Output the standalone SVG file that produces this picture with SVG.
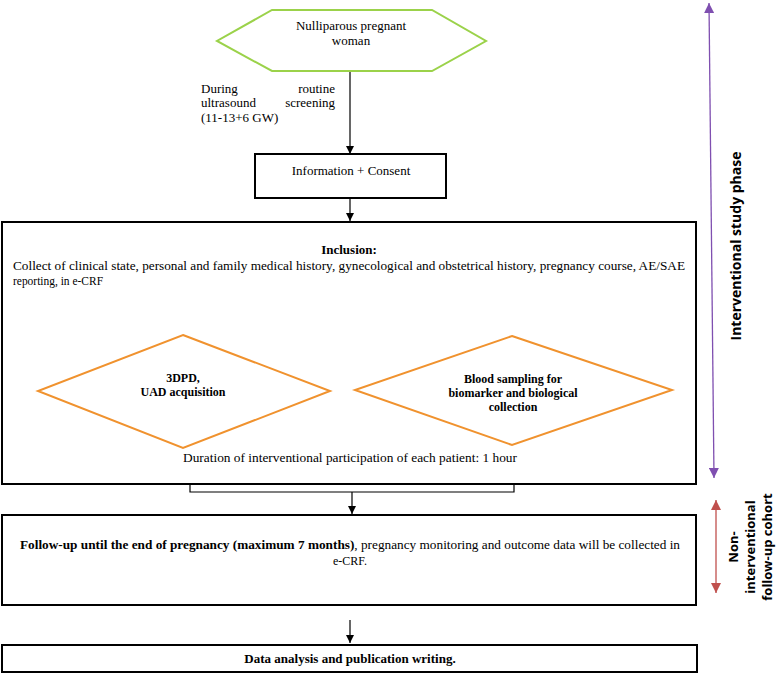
<svg xmlns="http://www.w3.org/2000/svg" width="777" height="674" viewBox="0 0 777 674">
<defs>
<style>
.t{font-family:'Liberation Serif','Tinos','DejaVu Serif',serif;font-size:12px;fill:#000}
.m{font-size:13px}
.b{font-weight:bold}
.box{fill:#fff;stroke:#000;stroke-width:2}
.ln{fill:none;stroke:#000;stroke-width:1.2}
.side{font-family:'Open Sans','DejaVu Sans',sans-serif;font-size:13px;font-weight:bold;fill:#000}
</style>
<marker id="ah" viewBox="0 0 10 10" refX="10" refY="5" markerWidth="8" markerHeight="8" markerUnits="userSpaceOnUse" orient="auto"><path d="M0,0 L10,5 L0,10 z" fill="#000"/></marker>
<marker id="ap" viewBox="0 0 10 10" refX="10" refY="5" markerWidth="10" markerHeight="10" markerUnits="userSpaceOnUse" orient="auto-start-reverse"><path d="M0,0 L10,5 L0,10 z" fill="#7F4FB0"/></marker>
<marker id="ar" viewBox="0 0 10 10" refX="10" refY="5" markerWidth="10" markerHeight="10" markerUnits="userSpaceOnUse" orient="auto-start-reverse"><path d="M0,0 L10,5 L0,10 z" fill="#C0504D"/></marker>
</defs>
<rect width="777" height="674" fill="#fff"/>

<g id="connectors">
<line class="ln" x1="350" y1="71" x2="350" y2="154" marker-end="url(#ah)"/>
<line class="ln" x1="350" y1="198" x2="350" y2="221" marker-end="url(#ah)"/>
<line class="ln" x1="349" y1="288" x2="349" y2="316"/>
<polyline class="ln" points="185,333 185,316 510,316 510,334"/>
<line class="ln" x1="185" y1="316" x2="185" y2="334" marker-end="url(#ah)"/>
<line class="ln" x1="510" y1="316" x2="510" y2="335" marker-end="url(#ah)"/>
<polyline class="ln" points="190,485 190,492 514,492 514,485"/>
<line class="ln" x1="352" y1="492" x2="352" y2="514" marker-end="url(#ah)"/>
<line class="ln" x1="350" y1="620" x2="350" y2="643" marker-end="url(#ah)"/>
<line x1="709" y1="3" x2="714" y2="478" stroke="#7F4FB0" stroke-width="1.3" marker-start="url(#ap)" marker-end="url(#ap)"/>
<line x1="716" y1="500" x2="716" y2="593" stroke="#C0504D" stroke-width="1.3" marker-start="url(#ar)" marker-end="url(#ar)"/>
</g>

<g id="start">
<polygon points="272,10 432,10 486,41 432,71 272,71 217,41" fill="#fff" stroke="#9BD24A" stroke-width="2"/>
<text class="t m" x="351" y="30" text-anchor="middle">Nulliparous pregnant</text>
<text class="t m" x="351" y="45" text-anchor="middle">woman</text>
</g>

<g id="label-during">
<text class="t m" x="201" y="93">During</text>
<text class="t m" x="335" y="93" text-anchor="end">routine</text>
<text class="t m" x="201" y="107">ultrasound</text>
<text class="t m" x="335" y="107" text-anchor="end">screening</text>
<text class="t m" x="201" y="122">(11-13+6 GW)</text>
</g>

<g id="consent">
<rect class="box" x="255" y="154" width="191" height="44"/>
<text class="t m" x="351" y="175" text-anchor="middle">Information + Consent</text>
</g>

<g id="inclusion">
<rect class="box" x="2" y="222" width="694" height="262"/>
<text class="t m b" x="349" y="254" text-anchor="middle">Inclusion:</text>
<text class="t" x="13" y="270" textLength="672" lengthAdjust="spacingAndGlyphs">Collect of clinical state, personal and family medical history, gynecological and obstetrical history, pregnancy course, AE/SAE</text>
<text class="t" x="13" y="285" textLength="90" lengthAdjust="spacingAndGlyphs">reporting, in e-CRF</text>
<text class="t" x="350" y="462" text-anchor="middle" textLength="334" lengthAdjust="spacingAndGlyphs">Duration of interventional participation of each patient: 1 hour</text>
</g>

<g id="ultrasound">
<polygon points="183,335 330,391 183,448 38,391" fill="#fff" stroke="#F0922E" stroke-width="2"/>
<text class="t b" x="183" y="382" text-anchor="middle">3DPD,</text>
<text class="t b" x="183" y="396" text-anchor="middle">UAD acquisition</text>
</g>

<g id="blood">
<polygon points="512,336 672,390 512,445 355,390" fill="#fff" stroke="#F0922E" stroke-width="2"/>
<text class="t b" x="513" y="383" text-anchor="middle">Blood sampling for</text>
<text class="t b" x="513" y="397" text-anchor="middle">biomarker and biological</text>
<text class="t b" x="513" y="411" text-anchor="middle">collection</text>
</g>

<g id="followup">
<rect class="box" x="2" y="515" width="694" height="90"/>
<text class="t" x="350" y="549" text-anchor="middle" textLength="660" lengthAdjust="spacingAndGlyphs"><tspan class="b">Follow-up until the end of pregnancy (maximum 7 months)</tspan>, pregnancy monitoring and outcome data will be collected in</text>
<text class="t" x="350" y="565" text-anchor="middle">e-CRF.</text>
</g>

<g id="analysis">
<rect class="box" x="2" y="645" width="695" height="27"/>
<text class="t m b" x="350" y="663" text-anchor="middle">Data analysis and publication writing.</text>
</g>

<g id="phase-labels">
<text class="side" style="font-size:14px" transform="translate(741,246) rotate(-90)" text-anchor="middle">Interventional study phase</text>
<text class="side" transform="translate(738,547) rotate(-90)" text-anchor="middle">Non-</text>
<text class="side" transform="translate(755,547) rotate(-90)" text-anchor="middle">interventional</text>
<text class="side" transform="translate(772,547) rotate(-90)" text-anchor="middle">follow-up cohort</text>
</g>
</svg>
